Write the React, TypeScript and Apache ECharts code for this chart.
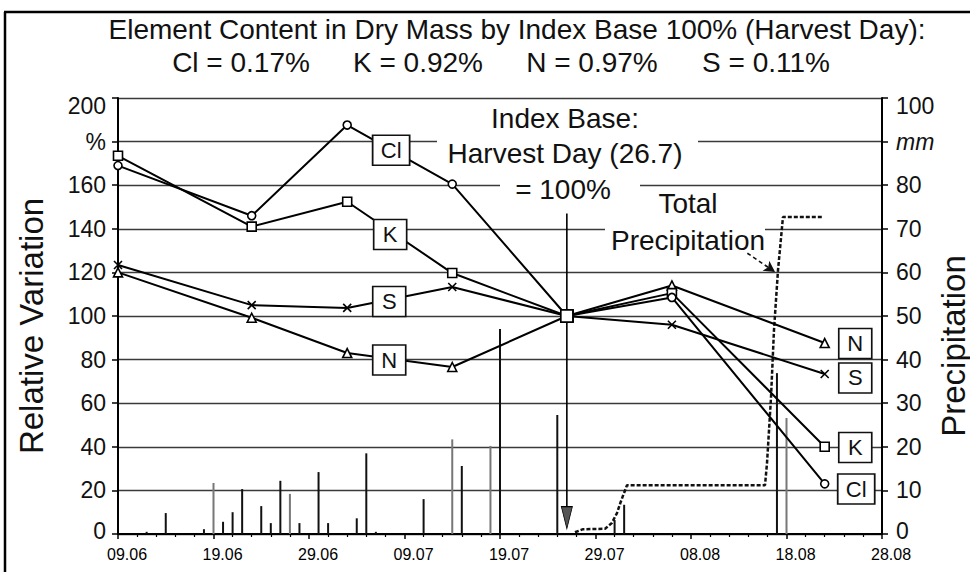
import React, { useEffect, useRef } from 'react';
import * as echarts from 'echarts';

// ---- data ----
const xTickLabels = ['09.06', '19.06', '29.06', '09.07', '19.07', '29.07', '08.08', '18.08', '28.08'];
const sampleDates = ['09.06', '23.06', '03.07', '14.07', '26.07', '06.08', '22.08'];
const clValues = [169, 146, 187.6, 160.5, 100, 108.5, 23];
const kValues = [173.5, 141, 152.4, 119.7, 100, 110.5, 40];
const nValues = [120, 99.2, 83, 76.6, 100, 114, 87.6];
const sValues = [123.4, 105, 103.7, 113.3, 100, 96, 73.4];
const harvestDate = '26.07';

const rainDates = [
  '12.06', '14.06', '18.06', '19.06', '20.06', '21.06', '22.06', '24.06', '25.06', '26.06',
  '27.06', '28.06', '30.06', '01.07', '04.07', '05.07', '06.07', '11.07', '14.07', '15.07',
  '18.07', '19.07', '25.07', '31.07', '01.08', '17.08', '18.08',
];
const rainMm = [
  0.5, 4.8, 1.1, 11.7, 2.8, 5.0, 10.3, 6.4, 2.5, 12.2,
  9.2, 2.5, 14.2, 2.5, 3.6, 18.5, 0.5, 8.0, 21.7, 15.6,
  20.2, 47, 27.3, 3.2, 6.7, 36.9, 26.6,
];
const faintRainDates = ['19.06', '27.06', '14.07', '18.07', '18.08'];

// cumulative precipitation after harvest (days after 09.06, mm)
const cumDays = [47.85, 48.7, 51.0, 51.7, 52.25, 52.6, 52.9, 53.3, 67.75, 67.96, 68.38, 68.69, 69.11, 69.63, 73.8];
const cumMm = [0.4, 1.1, 1.2, 2.5, 4.8, 7.1, 8.9, 11.2, 11.2, 16.3, 31.4, 46.8, 60.5, 72.7, 72.7];

const titleLine1 = 'Element Content in Dry Mass by Index Base 100% (Harvest Day):';
const titleParts = ['Cl = 0.17%', 'K = 0.92%', 'N = 0.97%', 'S = 0.11%'];

// ---- helpers ----
const BASE = Date.UTC(2001, 5, 9);
function dayOf(s: string): number {
  const [d, m] = s.split('.').map(Number);
  return Math.round((Date.UTC(2001, m - 1, d) - BASE) / 86400000);
}

const FONT = "'Liberation Sans', Arial, Helvetica, sans-serif";

function elementSeries(name: string, values: number[], symbol: string, size: number, boxes: number[][], boxW: number) {
  const harvestIdx = sampleDates.indexOf(harvestDate);
  return {
    type: 'line',
    name,
    yAxisIndex: 0,
    z: 4,
    symbol,
    symbolSize: size,
    showAllSymbol: true,
    itemStyle: { color: '#fff', borderColor: '#000', borderWidth: 1.6 },
    lineStyle: { color: '#000', width: 2 },
    data: sampleDates.map((d, i) =>
      i === harvestIdx
        ? { value: [dayOf(d), values[i]], symbol: 'rect', symbolSize: 12 }
        : { value: [dayOf(d), values[i]] }
    ),
    markPoint: {
      silent: true,
      symbol: 'rect',
      symbolSize: [boxW, 30],
      itemStyle: { color: '#fff', borderColor: '#111', borderWidth: 1.6 },
      label: { show: true, position: 'inside', formatter: name, color: '#111', fontSize: 22, fontFamily: FONT },
      data: boxes.map((c) => ({ coord: c })),
    },
  };
}

export default function App() {
  const ref = useRef<HTMLDivElement>(null);
  useEffect(() => {
    if (!ref.current) return;
    const chart = echarts.init(ref.current, null, { renderer: 'svg' });
    const harvestDay = dayOf(harvestDate);

    const option: any = {
      animation: false,
      backgroundColor: '#fff',
      textStyle: { fontFamily: FONT },
      grid: { left: 118, right: 88, top: 98, bottom: 38, containLabel: false },
      xAxis: {
        type: 'value',
        min: 0,
        max: 80,
        interval: 10,
        axisLine: { show: true, lineStyle: { color: '#000', width: 2 } },
        axisTick: { show: true, length: 5, lineStyle: { color: '#000', width: 1.5 } },
        minorTick: { show: true, splitNumber: 5, length: 3, lineStyle: { color: '#000', width: 1.2 } },
        splitLine: { show: false },
        axisLabel: {
          fontSize: 16,
          color: '#000',
          margin: 12,
          padding: [0, 0, 0, 18],
          formatter: (v: number) => xTickLabels[Math.round(v / 10)] ?? '',
        },
      },
      yAxis: [
        {
          type: 'value',
          min: 0,
          max: 200,
          interval: 20,
          position: 'left',
          axisLine: { show: true, lineStyle: { color: '#000', width: 2 } },
          axisTick: { show: true, length: 6, lineStyle: { color: '#000', width: 1.5 } },
          splitLine: { show: true, lineStyle: { color: '#3a3a3a', width: 1.4 } },
          axisLabel: {
            fontSize: 23,
            color: '#111',
            margin: 12,
            formatter: (v: number) =>
              v === 180 ? '%' : v === 200 ? '{top|200}' : v === 0 ? '{bot|0}' : String(v),
            rich: {
              top: { fontSize: 23, color: '#111', padding: [16, 0, 0, 0] },
              bot: { fontSize: 23, color: '#111', padding: [0, 0, 6, 0] },
            },
          },
        },
        {
          type: 'value',
          min: 0,
          max: 100,
          interval: 10,
          position: 'right',
          axisLine: { show: true, lineStyle: { color: '#000', width: 2 } },
          axisTick: { show: true, length: 6, lineStyle: { color: '#000', width: 1.5 } },
          splitLine: { show: false },
          axisLabel: {
            fontSize: 23,
            color: '#111',
            margin: 14,
            formatter: (v: number) =>
              v === 90 ? '{i|mm}' : v === 100 ? '{top|100}' : v === 0 ? '{bot|0}' : String(v),
            rich: {
              i: { fontSize: 23, fontStyle: 'italic', color: '#111' },
              top: { fontSize: 23, color: '#111', padding: [16, 0, 0, 0] },
              bot: { fontSize: 23, color: '#111', padding: [0, 0, 6, 0] },
            },
          },
        },
      ],
      series: [
        {
          type: 'bar',
          name: 'Daily precipitation',
          yAxisIndex: 1,
          barWidth: 2,
          z: 2,
          itemStyle: { color: '#111' },
          data: rainDates.map((d, i) => ({
            value: [dayOf(d), rainMm[i]],
            itemStyle: faintRainDates.includes(d) ? { color: '#777' } : undefined,
          })),
        },
        {
          type: 'line',
          name: 'Total Precipitation',
          yAxisIndex: 1,
          z: 3,
          symbol: 'none',
          lineStyle: { color: '#111', width: 2.5, type: [4, 2] },
          data: cumDays.map((d, i) => [d, cumMm[i]]),
          markLine: {
            silent: true,
            symbol: ['none', 'arrow'],
            symbolSize: [9, 11],
            lineStyle: { color: '#111', width: 1.6, type: [4, 3] },
            label: { show: false },
            data: [[{ coord: [65.9, 64.4] }, { coord: [68.8, 60.1] }]],
          },
        },
        {
          type: 'line',
          name: 'Harvest',
          yAxisIndex: 0,
          z: 3,
          lineStyle: { color: '#000', width: 1.6 },
          data: [
            { value: [harvestDay, 147], symbol: 'none' },
            {
              value: [harvestDay, 7.5],
              symbol: 'triangle',
              symbolRotate: 180,
              symbolSize: [11, 22],
              itemStyle: { color: '#555', borderColor: '#000', borderWidth: 1 },
            },
          ],
        },
        elementSeries('N', nValues, 'triangle', 9, [[28.4, 79.8], [77.2, 87.4]], 33),
        elementSeries('S', sValues, 'path://M0,0L10,10M10,0L0,10', 8, [[28.4, 106.7], [77.2, 71.6]], 33),
        elementSeries('K', kValues, 'rect', 9, [[28.5, 137.4], [77.2, 39.7]], 33),
        elementSeries('Cl', clValues, 'circle', 8, [[28.6, 176], [77.3, 20.6]], 37),
      ],
      graphic: [
        // frame
        { type: 'line', z: 10, shape: { x1: 4, y1: 12, x2: 970, y2: 12 }, style: { stroke: '#000', lineWidth: 2.5 } },
        { type: 'line', z: 10, shape: { x1: 5, y1: 12, x2: 5, y2: 572 }, style: { stroke: '#000', lineWidth: 2.5 } },
        // title
        {
          type: 'text', z: 10, x: 517, y: 29,
          style: { text: titleLine1, font: `28px ${FONT}`, fill: '#111', textAlign: 'center', textVerticalAlign: 'middle' },
        },
        ...titleParts.map((t, i) => ({
          type: 'text', z: 10, x: [241, 418, 592, 766][i], y: 62,
          style: { text: t, font: `28px ${FONT}`, fill: '#111', textAlign: 'center', textVerticalAlign: 'middle' },
        })),
        // white knock-outs behind annotations
        { type: 'rect', z: 1, shape: { x: 437, y: 102, width: 261, height: 64 }, style: { fill: '#fff' } },
        { type: 'rect', z: 1, shape: { x: 500, y: 172, width: 140, height: 33 }, style: { fill: '#fff' } },
        { type: 'rect', z: 1, shape: { x: 605, y: 190, width: 160, height: 66 }, style: { fill: '#fff' } },
        // annotations
        {
          type: 'text', z: 10, x: 565, y: 118,
          style: { text: 'Index Base:', font: `28px ${FONT}`, fill: '#111', textAlign: 'center', textVerticalAlign: 'middle' },
        },
        {
          type: 'text', z: 10, x: 565, y: 153,
          style: { text: 'Harvest Day (26.7)', font: `28px ${FONT}`, fill: '#111', textAlign: 'center', textVerticalAlign: 'middle' },
        },
        {
          type: 'text', z: 10, x: 563, y: 189,
          style: { text: '= 100%', font: `28px ${FONT}`, fill: '#111', textAlign: 'center', textVerticalAlign: 'middle' },
        },
        {
          type: 'text', z: 10, x: 688, y: 203,
          style: { text: 'Total', font: `28px ${FONT}`, fill: '#111', textAlign: 'center', textVerticalAlign: 'middle' },
        },
        {
          type: 'text', z: 10, x: 688, y: 240,
          style: { text: 'Precipitation', font: `28px ${FONT}`, fill: '#111', textAlign: 'center', textVerticalAlign: 'middle' },
        },
        // axis names
        {
          type: 'text', z: 10, x: 31, y: 326, rotation: Math.PI / 2,
          style: { text: 'Relative Variation', font: `33px ${FONT}`, fill: '#111', textAlign: 'center', textVerticalAlign: 'middle' },
        },
        {
          type: 'text', z: 10, x: 953, y: 346, rotation: Math.PI / 2,
          style: { text: 'Precipitation', font: `33px ${FONT}`, fill: '#111', textAlign: 'center', textVerticalAlign: 'middle' },
        },
      ],
    };
    chart.setOption(option);
    return () => chart.dispose();
  }, []);
  return <div ref={ref} style={{ position: 'fixed', left: 0, top: 0, width: 970, height: 572, background: '#fff' }} />;
}
